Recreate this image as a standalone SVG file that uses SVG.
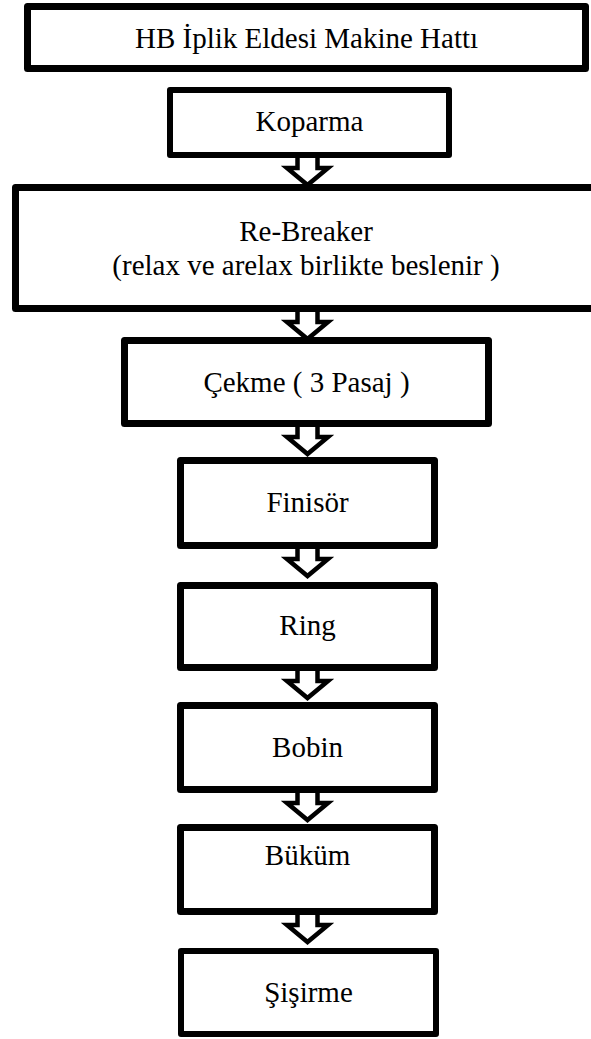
<svg xmlns="http://www.w3.org/2000/svg" width="591" height="1039" viewBox="0 0 591 1039">
<style>
.box{fill:#fff;stroke:#000;stroke-width:7;stroke-linejoin:round}
.thin{stroke-width:6}
.lbl{font-family:"Liberation Serif","Times New Roman",serif;font-size:29px;fill:#000;text-anchor:middle}
.arr{fill:#fff;stroke:#000;stroke-width:4.5;stroke-linejoin:miter}
</style>
<defs>
<path id="arrow" d="M-10,0 L-10,12 L-20.5,12 L0,29 L20.5,12 L10,12 L10,0"/>
</defs>
<rect width="591" height="1039" fill="#fff"/>
<g id="connectors">
<use href="#arrow" class="arr" transform="translate(307.5,156)"/>
<use href="#arrow" class="arr" transform="translate(307.5,310)"/>
<use href="#arrow" class="arr" transform="translate(307.5,425)"/>
<use href="#arrow" class="arr" transform="translate(307.5,547)"/>
<use href="#arrow" class="arr" transform="translate(307.5,669)"/>
<use href="#arrow" class="arr" transform="translate(307.5,791)"/>
<use href="#arrow" class="arr" transform="translate(307.5,913)"/>
</g>
<g id="hb">
<rect class="box" x="27.5" y="6.5" width="558" height="62"/>
<text class="lbl" x="306.5" y="48">HB İplik Eldesi Makine Hattı</text>
</g>
<g id="koparma">
<rect class="box thin" x="170" y="90" width="279" height="65"/>
<text class="lbl" x="309.5" y="131">Koparma</text>
</g>
<g id="rebreaker">
<rect class="box" x="15.5" y="187.5" width="600" height="121"/>
<text class="lbl" x="306" y="241">Re-Breaker</text>
<text class="lbl" x="306" y="275">(relax ve arelax birlikte beslenir )</text>
</g>
<g id="cekme">
<rect class="box" x="124.5" y="340.5" width="364" height="83"/>
<text class="lbl" x="306.5" y="392">Çekme ( 3 Pasaj )</text>
</g>
<g id="finisor">
<rect class="box" x="180.5" y="460.5" width="254" height="85"/>
<text class="lbl" x="307.5" y="512">Finisör</text>
</g>
<g id="ring">
<rect class="box" x="180.5" y="585.5" width="254" height="82"/>
<text class="lbl" x="307.5" y="635">Ring</text>
</g>
<g id="bobin">
<rect class="box" x="180.5" y="705.5" width="254" height="84"/>
<text class="lbl" x="307.5" y="757">Bobin</text>
</g>
<g id="bukum">
<rect class="box" x="180.5" y="827.5" width="254" height="84"/>
<text class="lbl" x="307.5" y="865">Büküm</text>
</g>
<g id="sisirme">
<rect class="box thin" x="181" y="951" width="255" height="83"/>
<text class="lbl" x="308.5" y="1002">Şişirme</text>
</g>
</svg>
